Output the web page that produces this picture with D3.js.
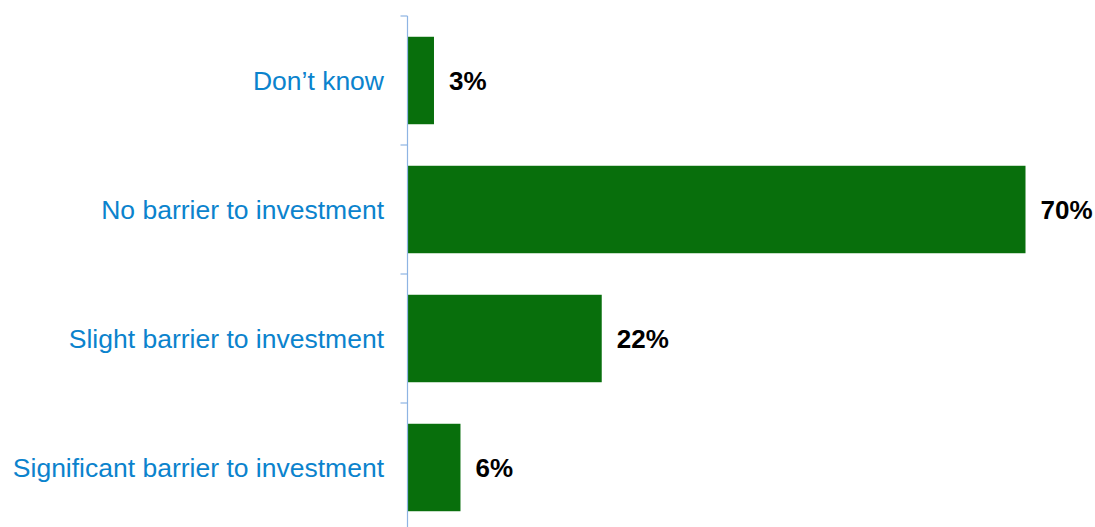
<!DOCTYPE html>
<html>
<head>
<meta charset="utf-8">
<script src="https://cdn.jsdelivr.net/npm/d3@7"></script>
<style>
  html, body { margin: 0; padding: 0; background: #fff; }
  svg { display: block; }
</style>
</head>
<body>
<svg id="chart" width="1095" height="527"></svg>
<script>
// Survey responses, listed top to bottom
const categories = [
  "Don\u2019t know",
  "No barrier to investment",
  "Slight barrier to investment",
  "Significant barrier to investment"
];
const values = [3, 70, 22, 6];

const svg = d3.select("#chart");
const axisX = 407.5;

const x = d3.scaleLinear().domain([0, 70]).range([axisX, 1025.5]);
const y = d3.scaleBand().domain(categories).range([16, 532]).paddingInner(0.322).paddingOuter(0.161);

// Bars
svg.selectAll("rect.bar")
  .data(values)
  .enter().append("rect")
  .attr("class", "bar")
  .attr("x", x(0))
  .attr("y", (d, i) => y(categories[i]))
  .attr("width", d => x(d) - x(0))
  .attr("height", y.bandwidth())
  .attr("fill", "#086f0c");

// Category axis with ticks between bands
const axisG = svg.append("g");
axisG.append("line")
  .attr("x1", axisX).attr("x2", axisX)
  .attr("y1", y.range()[0]).attr("y2", 527)
  .attr("stroke", "#8eb4e3").attr("stroke-width", 1.2);
const tickYs = categories.map(c => y(c) - y.step() * y.paddingOuter());
axisG.selectAll("line.tick")
  .data(tickYs)
  .enter().append("line")
  .attr("class", "tick")
  .attr("x1", axisX - 7).attr("x2", axisX)
  .attr("y1", d => d).attr("y2", d => d)
  .attr("stroke", "#8eb4e3").attr("stroke-width", 1.2);

// Category labels
svg.selectAll("text.cat")
  .data(categories)
  .enter().append("text")
  .attr("class", "cat")
  .attr("x", axisX - 23.5)
  .attr("y", d => y(d) + y.bandwidth() / 2)
  .attr("dy", "0.35em")
  .attr("text-anchor", "end")
  .attr("font-family", "'Liberation Sans', Arial, sans-serif")
  .attr("font-size", "26.5px")
  .attr("fill", "#0b83cd")
  .text(d => d);

// Value labels
svg.selectAll("text.val")
  .data(values)
  .enter().append("text")
  .attr("class", "val")
  .attr("x", d => x(d) + 15)
  .attr("y", (d, i) => y(categories[i]) + y.bandwidth() / 2)
  .attr("dy", "0.35em")
  .attr("font-family", "'Liberation Sans', Arial, sans-serif")
  .attr("font-weight", "bold")
  .attr("font-size", "26px")
  .attr("fill", "#000")
  .text(d => d + "%");
</script>
</body>
</html>
